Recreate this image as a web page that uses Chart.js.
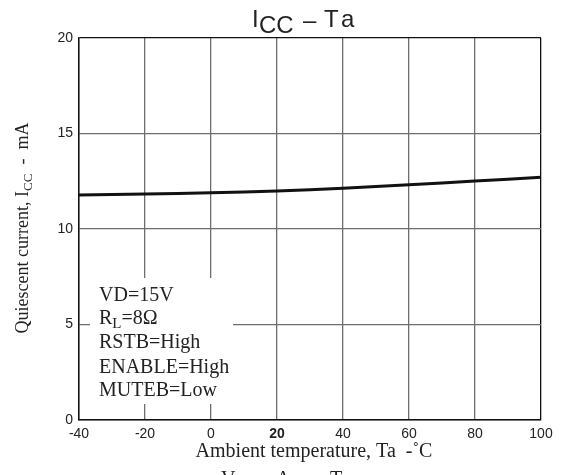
<!DOCTYPE html>
<html>
<head>
  <meta charset="UTF-8">
  <title>ICC - Ta</title>
  <script src="https://cdn.jsdelivr.net/npm/chart.js"></script>
  <style>
    html, body { margin: 0; padding: 0; background: #fff; }
    #wrap { width: 561px; height: 475px; }
  </style>
</head>
<body>
  <div id="wrap"><canvas id="chart"></canvas></div>

  <script>
    // données
    const temperatures = [-40, -20, 0, 20, 40, 60, 80, 100];
    const courant = [11.78, 11.83, 11.9, 11.99, 12.13, 12.32, 12.51, 12.71];
    const ticksX = [-40, -20, 0, 20, 40, 60, 80, 100];
    const ticksY = [0, 5, 10, 15, 20];
    const conditions = ['VD=15V', 'RL=8Ω', 'RSTB=High', 'ENABLE=High', 'MUTEB=Low'];

    const SERIF = '"Liberation Serif", "Times New Roman", serif';
    const SANS = '"Liberation Sans", Arial, sans-serif';

    // dessine un texte avec un indice (ex: I + CC)
    function textSub(ctx, parts, x, y) {
      let cx = x;
      for (const p of parts) {
        ctx.font = p.font;
        ctx.fillText(p.t, cx, y + (p.dy || 0));
        cx += ctx.measureText(p.t).width;
      }
      return cx;
    }
    function widthSub(ctx, parts) {
      let w = 0;
      for (const p of parts) { ctx.font = p.font; w += ctx.measureText(p.t).width; }
      return w;
    }

    const textes = {
      id: 'textes',
      beforeDatasetsDraw(chart) {
        const ctx = chart.ctx;
        // cadre blanc des conditions
        ctx.save();
        ctx.fillStyle = '#fff';
        ctx.fillRect(90, 278, 143, 126);
        ctx.restore();
      },
      afterDraw(chart) {
        const ctx = chart.ctx;
        ctx.save();
        ctx.fillStyle = '#222';
        ctx.textBaseline = 'alphabetic';
        ctx.textAlign = 'left';

        // titre
        const t24 = '24px ' + SANS;
        ctx.font = t24;
        ctx.fillText('I', 252, 27);
        ctx.fillText('CC', 259, 33);
        ctx.fillText('–', 303, 28);
        ctx.fillText('T', 324, 27);
        ctx.fillText('a', 341, 27);

        // conditions
        const f20 = '20px ' + SERIF;
        const lignes = [301, 324, 348, 373, 396];
        conditions.forEach((c, i) => {
          if (c.startsWith('RL')) {
            textSub(ctx, [
              { t: 'R', font: f20 },
              { t: 'L', font: '15px ' + SERIF, dy: 4 },
              { t: c.slice(2), font: f20 }
            ], 99, lignes[i]);
          } else {
            ctx.font = f20;
            ctx.fillText(c, 99, lignes[i]);
          }
        });

        // titre axe x
        ctx.font = f20;
        const tx = 'Ambient temperature, Ta  -˚C';
        const wx = ctx.measureText(tx).width;
        ctx.fillText(tx, 314 - wx / 2, 457);

        // morceau de texte coupé en bas
        ctx.textBaseline = 'top';
        ctx.fillText('V', 221, 470);
        ctx.fillText('A', 276, 470);
        ctx.fillText('T', 330, 470);

        // titre axe y
        ctx.textBaseline = 'alphabetic';
        const f18 = '18px ' + SERIF;
        const partsY = [
          { t: 'Quiescent current, I', font: f18 },
          { t: 'CC', font: '13px ' + SERIF, dy: 4 },
          { t: '  -  mA', font: f18 }
        ];
        const wy = widthSub(ctx, partsY);
        ctx.translate(28, 228);
        ctx.rotate(-Math.PI / 2);
        textSub(ctx, partsY, -wy / 2, 0);
        ctx.restore();
      }
    };

    new Chart(document.getElementById('chart').getContext('2d'), {
      type: 'line',
      data: {
        datasets: [{
          data: temperatures.map((t, i) => ({ x: t, y: courant[i] })),
          borderColor: '#111',
          borderWidth: 3,
          pointRadius: 0,
          tension: 0.4,
          fill: false
        }]
      },
      options: {
        responsive: true,
        maintainAspectRatio: false,
        animation: false,
        layout: { padding: { top: 38, right: 20, bottom: 0, left: 0 } },
        plugins: {
          legend: { display: false },
          title: { display: false },
          tooltip: { enabled: false }
        },
        scales: {
          x: {
            type: 'linear',
            min: -40,
            max: 100,
            afterBuildTicks: (s) => { s.ticks = ticksX.map(v => ({ value: v })); },
            afterFit: (s) => { s.height = 55; },
            grid: {
              drawTicks: false,
              lineWidth: 1.3,
              color: (c) => (c.tick && c.tick.value === 100) ? '#111' : '#6e6e6e'
            },
            border: { color: '#111', width: 1.5 },
            ticks: {
              padding: 6,
              color: '#222',
              font: (c) => ({
                family: SANS,
                size: 14,
                weight: (c.tick && c.tick.value === 20) ? 'bold' : 'normal'
              })
            }
          },
          y: {
            type: 'linear',
            min: 0,
            max: 20,
            afterBuildTicks: (s) => { s.ticks = ticksY.map(v => ({ value: v })); },
            afterFit: (s) => { s.width = 79; },
            grid: {
              drawTicks: false,
              lineWidth: 1.3,
              color: (c) => (c.tick && c.tick.value === 20) ? '#111' : '#6e6e6e'
            },
            border: { color: '#111', width: 1.5 },
            ticks: {
              padding: 6,
              color: '#222',
              font: { family: SANS, size: 14 }
            }
          }
        }
      },
      plugins: [textes]
    });
  </script>
</body>
</html>
